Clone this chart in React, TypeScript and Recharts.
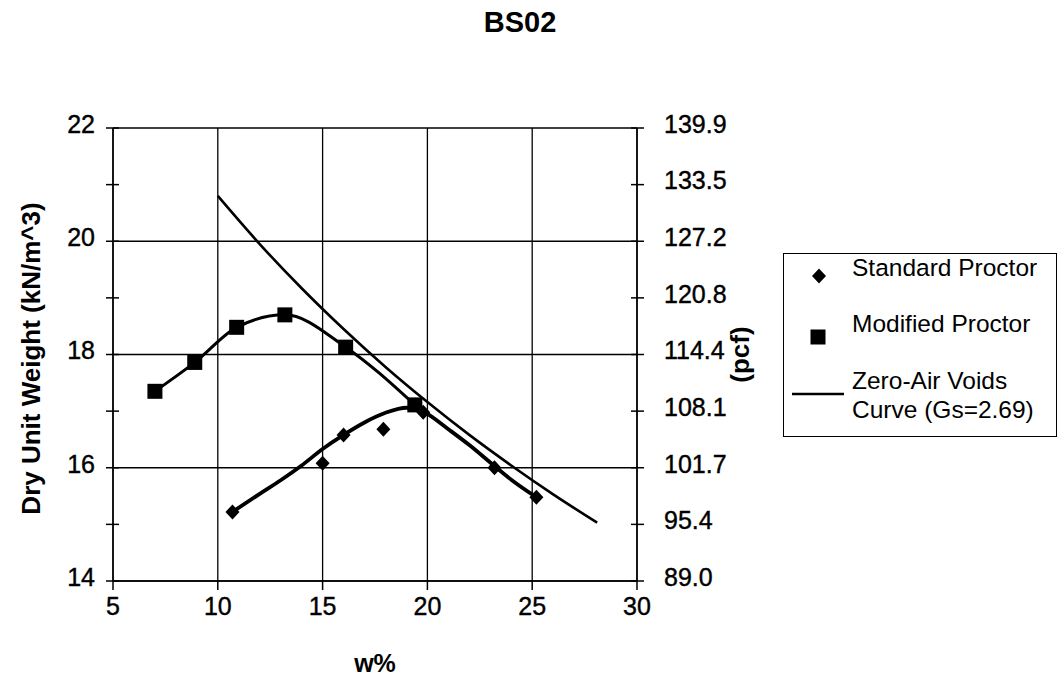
import React from 'react';
import { CartesianGrid, ComposedChart, Legend, Line, Scatter, XAxis, YAxis } from 'recharts';

const FONT = '"Liberation Sans", Arial, sans-serif';

// moisture content ticks (w%)
const wTicks = [5, 10, 15, 20, 25, 30];
// dry unit weight ticks (kN/m^3); only the even ones get a label on the left
const kNTicks = [14, 15, 16, 17, 18, 19, 20, 21, 22];
const kNGrid = [14, 16, 18, 20, 22];
// right axis labels in pcf, one for each kN tick
const pcfLabels = ['89.0', '95.4', '101.7', '108.1', '114.4', '120.8', '127.2', '133.5', '139.9'];

// Standard Proctor test points
const standardW = [10.7, 15.0, 16.0, 17.9, 19.8, 23.2, 25.2];
const standardG = [15.22, 16.08, 16.58, 16.68, 16.98, 16.0, 15.48];

// smooth curve drawn through the standard points
const standardFitW = [10.7, 12, 13, 14, 15, 16, 17, 18, 19, 19.5, 20, 21, 22, 23.2, 24, 25.2];
const standardFitG = [15.22, 15.54, 15.78, 16.04, 16.33, 16.58, 16.8, 16.97, 17.06, 17.05, 16.95, 16.68, 16.4, 16.03, 15.79, 15.48];

// Modified Proctor test points
const modifiedW = [7.0, 8.9, 10.9, 13.2, 16.1, 19.4];
const modifiedG = [17.35, 17.86, 18.48, 18.7, 18.13, 17.11];

// zero-air voids curve, Gs = 2.69
const zavW = [10, 12, 14, 16, 18, 20, 22, 24, 26, 28.1];
const zavG = [20.8, 19.95, 19.17, 18.45, 17.78, 17.16, 16.58, 16.04, 15.53, 15.03];

const toPoints = (ws: number[], gs: number[]) => ws.map((w, i) => ({ w, g: gs[i] }));

const standardData = toPoints(standardW, standardG);
const standardFitData = toPoints(standardFitW, standardFitG);
const modifiedData = toPoints(modifiedW, modifiedG);
const zavData = toPoints(zavW, zavG);

const Diamond = ({ cx, cy }: any) => (
  <polygon points={`${cx},${cy - 7.5} ${cx + 7},${cy} ${cx},${cy + 7.5} ${cx - 7},${cy}`} fill="#000" />
);

const Square = ({ cx, cy }: any) => <rect x={cx - 7.5} y={cy - 7.5} width={15} height={15} fill="#000" />;

const LeftTick = ({ x, y, payload }: any) => (
  <g>
    <line x1={x - 7} x2={x + 6} y1={y} y2={y} stroke="#000" strokeWidth={1.5} />
    {kNGrid.includes(payload.value) && (
      <text
        x={x - 18}
        y={y - 4}
        dy="0.35em"
        textAnchor="end"
        fontSize={25}
        fontFamily={FONT}
        fill="#000"
        stroke="#000"
        strokeWidth={0.4}
      >
        {payload.value}
      </text>
    )}
  </g>
);

const RightTick = ({ x, y, index }: any) => (
  <g>
    <line x1={x - 6} x2={x + 7} y1={y} y2={y} stroke="#000" strokeWidth={1.5} />
    <text
      x={x + 27}
      y={y - 4}
      dy="0.35em"
      textAnchor="start"
      fontSize={25}
      fontFamily={FONT}
      fill="#000"
      stroke="#000"
      strokeWidth={0.4}
    >
      {pcfLabels[index]}
    </text>
  </g>
);

const legendText = { fontSize: 24.5, fontFamily: FONT, fill: '#000' };

const LegendBox = () => (
  <div style={{ width: 274, height: 184, border: '1.5px solid #000', boxSizing: 'border-box', background: '#fff' }}>
    <svg width={272} height={182} style={{ display: 'block', overflow: 'visible' }}>
      <Diamond cx={35} cy={22} />
      <text x={68} y={22} {...legendText}>Standard Proctor</text>
      <Square cx={34} cy={83} />
      <text x={68} y={78} {...legendText}>Modified Proctor</text>
      <line x1={8} x2={60} y1={140} y2={140} stroke="#000" strokeWidth={2.5} />
      <text x={68} y={135} {...legendText}>Zero-Air Voids</text>
      <text x={68} y={164} {...legendText}>Curve (Gs=2.69)</text>
    </svg>
  </div>
);

export default function App() {
  return (
    <div style={{ position: 'absolute', left: 0, top: 0, width: 1058, height: 677, background: '#fff' }}>
      <div
        style={{
          position: 'absolute',
          left: 0,
          top: 8,
          width: 1040,
          textAlign: 'center',
          fontFamily: FONT,
          fontWeight: 'bold',
          fontSize: 29,
          lineHeight: '29px',
        }}
      >
        BS02
      </div>
      <ComposedChart width={1058} height={677} margin={{ top: 128, right: 271, bottom: 0, left: 0 }}>
        <CartesianGrid
          stroke="#000"
          strokeWidth={1.3}
          horizontalValues={kNGrid}
          verticalValues={wTicks}
          yAxisId="left"
        />
        <XAxis
          type="number"
          dataKey="w"
          domain={[5, 30]}
          ticks={wTicks}
          allowDataOverflow
          height={96}
          tickSize={9}
          tickMargin={7}
          axisLine={{ stroke: '#000', strokeWidth: 1.5 }}
          tickLine={{ stroke: '#000', strokeWidth: 1.5 }}
          tick={{ fontSize: 25, fill: '#000', fontFamily: FONT, stroke: '#000', strokeWidth: 0.4 }}
          label={{
            value: 'w%',
            position: 'insideBottom',
            offset: 5,
            style: { fontSize: 25, fontWeight: 'bold', fill: '#000', fontFamily: FONT },
          }}
        />
        <YAxis
          yAxisId="left"
          dataKey="g"
          type="number"
          domain={[14, 22]}
          ticks={kNTicks}
          allowDataOverflow
          width={113}
          tickSize={0}
          tickMargin={0}
          tickLine={false}
          axisLine={{ stroke: '#000', strokeWidth: 1.5 }}
          tick={<LeftTick />}
          label={{
            value: 'Dry Unit Weight (kN/m^3)',
            angle: -90,
            position: 'insideLeft',
            offset: 31,
            dy: 4,
            style: { textAnchor: 'middle', fontSize: 26, fontWeight: 'bold', fill: '#000', fontFamily: FONT },
          }}
        />
        <YAxis
          yAxisId="right"
          orientation="right"
          dataKey="g"
          type="number"
          domain={[14, 22]}
          ticks={kNTicks}
          allowDataOverflow
          width={150}
          tickSize={0}
          tickMargin={0}
          tickLine={false}
          axisLine={{ stroke: '#000', strokeWidth: 1.5 }}
          tick={<RightTick />}
          label={{
            value: '(pcf)',
            angle: -90,
            position: 'insideLeft',
            offset: 103,
            style: { textAnchor: 'middle', fontSize: 26, fontWeight: 'bold', fill: '#000', fontFamily: FONT },
          }}
        />
        <Line
          yAxisId="left"
          data={zavData}
          dataKey="g"
          type="monotone"
          stroke="#000"
          strokeWidth={2.6}
          dot={false}
          isAnimationActive={false}
          name="Zero-Air Voids Curve (Gs=2.69)"
        />
        <Line
          yAxisId="left"
          data={modifiedData}
          dataKey="g"
          type="monotone"
          stroke="#000"
          strokeWidth={3}
          dot={false}
          isAnimationActive={false}
          legendType="none"
        />
        <Line
          yAxisId="left"
          data={standardFitData}
          dataKey="g"
          type="monotone"
          stroke="#000"
          strokeWidth={3.8}
          dot={false}
          isAnimationActive={false}
          legendType="none"
        />
        <Scatter
          yAxisId="left"
          data={modifiedData}
          dataKey="g"
          shape={(p: any) => <Square {...p} />}
          isAnimationActive={false}
          name="Modified Proctor"
        />
        <Scatter
          yAxisId="left"
          data={standardData}
          dataKey="g"
          shape={(p: any) => <Diamond {...p} />}
          isAnimationActive={false}
          name="Standard Proctor"
        />
        <Legend
          layout="vertical"
          align="center"
          verticalAlign="middle"
          width={274}
          wrapperStyle={{ left: 783, top: 253, width: 274, height: 184 }}
          content={() => <LegendBox />}
        />
      </ComposedChart>
    </div>
  );
}
